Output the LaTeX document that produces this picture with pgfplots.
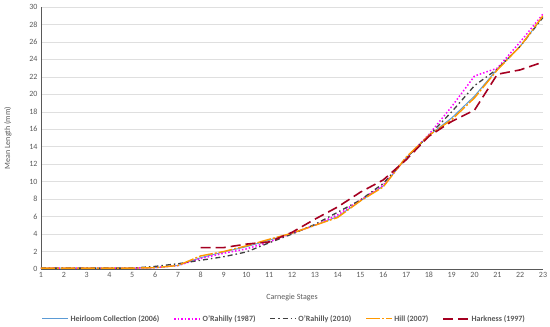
\documentclass[border=0pt]{standalone}
\usepackage{pgfplots}
\pgfplotsset{compat=1.18}
\usepackage{fontspec}
\setmainfont{Carlito}
\definecolor{heir}{HTML}{5B9BD5}
\definecolor{mag}{HTML}{FF00FF}
\definecolor{dgray}{HTML}{404040}
\definecolor{hill}{HTML}{FF9900}
\definecolor{hark}{HTML}{A50021}
\definecolor{tickc}{HTML}{595959}
\begin{document}
\begin{tikzpicture}
\path[use as bounding box] (-41pt,-58pt) rectangle (509pt,262pt+7pt);
\begin{axis}[
  scale only axis, width=502pt, height=262pt,
  at={(0,0)}, anchor=south west,
  xmin=1, xmax=23, ymin=0, ymax=30,
  xtick={1,...,23}, ytick={0,2,...,30},
  axis x line*=bottom, axis y line*=left,
  axis line style={tickc, line width=0.8pt},
  ymajorgrids, grid style={gray!25, line width=0.6pt},
  major tick length=0pt,
  tick label style={font=\fontsize{8}{9.5}\selectfont, text=tickc},
  /pgf/number format/assume math mode=true,
  xlabel={Carnegie Stages}, ylabel={Mean Length (mm)},
  label style={font=\fontsize{8}{9.5}\selectfont, text=tickc},
  xlabel style={at={(0.5,-0.107)}, anchor=center},
  ylabel style={at={(-0.066,0.5)}, anchor=center},
  legend style={at={(0.485,-0.19)}, anchor=center, draw=none, legend columns=-1,
    font=\fontsize{8}{9.5}\selectfont\bfseries, text=tickc,
    /tikz/every even column/.append style={column sep=12pt}},
  legend image code/.code={\draw[#1] (0cm,0cm) -- (0.9cm,0cm);},
]
\addplot[heir, line width=1pt] coordinates {
(1,0.1)(2,0.1)(3,0.1)(4,0.1)(5,0.1)(6,0.15)(7,0.4)(8,1.3)(9,1.95)(10,2.55)(11,3.3)(12,4.1)(13,5.0)(14,6.0)(15,7.8)(16,9.5)(17,12.7)(18,15.3)(19,17.3)(20,19.8)(21,22.9)(22,25.5)(23,28.9)};
\addlegendentry{Heirloom Collection (2006)}
\addplot[mag, line width=1.5pt, dash pattern=on 1.5pt off 2pt] coordinates {
(1,0.1)(2,0.1)(3,0.1)(4,0.1)(5,0.1)(6,0.15)(7,0.4)(8,1.2)(9,1.8)(10,2.3)(11,3.1)(12,4.1)(13,5.0)(14,6.2)(15,7.9)(16,9.6)(17,12.7)(18,15.4)(19,18.6)(20,22.1)(21,23.0)(22,26.0)(23,29.2)};
\addlegendentry{O'Rahilly (1987)}
\addplot[dgray, line width=1.3pt, dash pattern=on 5pt off 3pt on 1.5pt off 3pt] coordinates {
(1,0.1)(2,0.1)(3,0.1)(4,0.1)(5,0.1)(6,0.3)(7,0.6)(8,1.0)(9,1.4)(10,1.95)(11,3.0)(12,4.0)(13,5.1)(14,6.5)(15,7.9)(16,9.8)(17,12.7)(18,15.3)(19,18.0)(20,21.0)(21,22.9)(22,25.5)(23,28.8)};
\addlegendentry{O'Rahilly (2010)}
\addplot[hill, line width=1.4pt, dash pattern=on 14pt off 2pt on 2pt off 2pt] coordinates {
(1,0.1)(2,0.1)(3,0.1)(4,0.1)(5,0.1)(6,0.15)(7,0.4)(8,1.5)(9,2.0)(10,2.65)(11,3.4)(12,4.1)(13,5.0)(14,5.9)(15,7.8)(16,9.4)(17,12.8)(18,15.3)(19,17.1)(20,19.6)(21,22.8)(22,25.5)(23,29.0)};
\addlegendentry{Hill (2007)}
\addplot[hark, line width=1.6pt, dash pattern=on 10pt off 5pt] coordinates {
(8,2.45)(9,2.45)(10,2.85)(11,3.1)(12,4.2)(13,5.7)(14,7.1)(15,8.8)(16,10.2)(17,12.5)(18,15.2)(19,16.9)(20,18.2)(21,22.3)(22,22.8)(23,23.7)};
\addlegendentry{Harkness (1997)}
\end{axis}
\end{tikzpicture}
\end{document}
